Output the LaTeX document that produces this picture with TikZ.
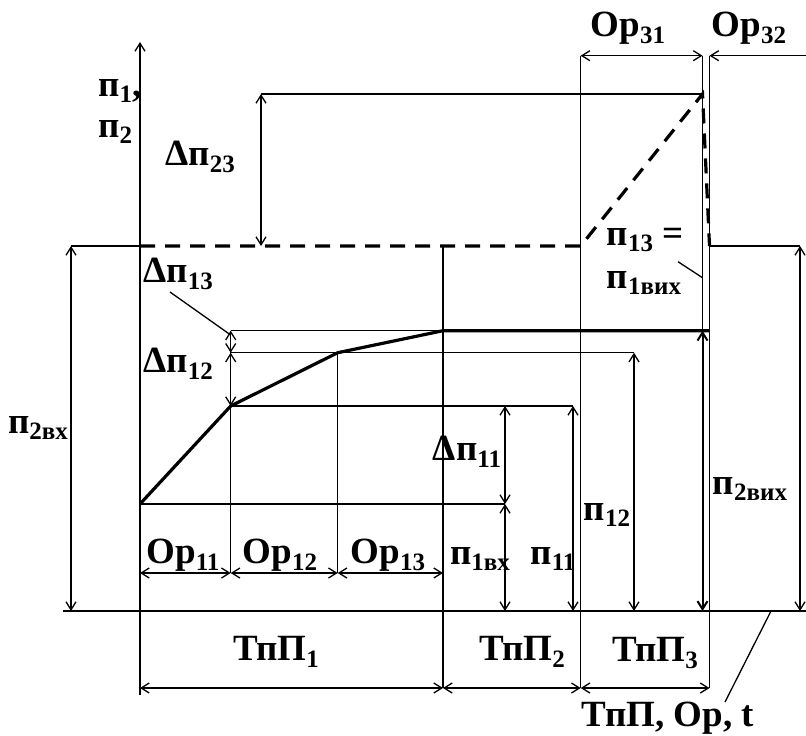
\documentclass[tikz,border=0pt]{standalone}
\usepackage{fontspec}
\setmainfont{Liberation Serif}
\usepackage{tikz}
\usetikzlibrary{arrows.meta}

\newcommand{\lowidx}[1]{\raisebox{-0.4ex}{\fontsize{12.5}{13}\selectfont #1}}

\begin{document}
\begin{tikzpicture}[x=0.5pt,y=-0.5pt,
  thinline/.style={line width=0.65pt},
  thickline/.style={line width=1.6pt},
  dashline/.style={line width=1.6pt,dash pattern=on 7.5pt off 5pt},
  dimline/.style={line width=0.65pt,{Straight Barb[length=4pt,width=5pt]}-{Straight Barb[length=4pt,width=5pt]}},
  lbl/.style={font=\fontsize{18.5}{22}\selectfont\bfseries,inner sep=0pt}]
\useasboundingbox (0,0) rectangle (806,735);

% key points
\coordinate (o) at (140,611);
\coordinate (s) at (140,504);
\coordinate (k1) at (230.7,406);
\coordinate (k2) at (337.7,352.7);
\coordinate (k3) at (443,330.7);
\coordinate (k4) at (709.5,330.7);
\coordinate (d1) at (140,246);
\coordinate (d2) at (580.7,246);
\coordinate (d3) at (702.5,94);
\coordinate (d4) at (709.5,246);

% axes
\draw[thinline,-{Straight Barb[length=4pt,width=5pt]}] (140,695) -- (140,42);
\draw[thinline] (63,611) -- (806,611);

% grid lines
\draw[thinline] (71,246) -- (d1);
\draw[thinline] (261,94) -- (d3);
\draw[thinline] (d4) -- (800,246);
\draw[thinline] (230.7,330.7) -- (k3);
\draw[thinline] (230.7,352.7) -- (634,352.7);
\draw[thinline] (k1) -- (573,406);
\draw[thinline] (s) -- (505,504);
\draw[thinline] (230.7,330.7) -- (230.7,573);
\draw[thinline] (k2) -- (337.7,573);
\draw[thinline] (443,246) -- (443,688);
\draw[thinline] (580.7,55.7) -- (580.7,688);
\draw[thinline] (702.5,55.7) -- (702.5,611);
\draw[thinline] (709.5,55.7) -- (709.5,688);

% curves
\draw[thickline] (s) -- (k1) -- (k2) -- (k3) -- (k4);
\draw[dashline] (d1) -- (d2) -- (d3) -- (d4);

% dimensions
\draw[dimline] (71,246) -- (71,611);
\draw[dimline] (261,94) -- (261,246);
\draw[dimline] (800,246) -- (800,611);
\draw[dimline] (230.7,330.7) -- (230.7,352.7);
\draw[dimline] (230.7,352.7) -- (k1);
\draw[dimline] (505,406) -- (505,504);
\draw[dimline] (505,504) -- (505,611);
\draw[dimline] (573,406) -- (573,611);
\draw[dimline] (634,352.7) -- (634,611);
\draw[dimline,line width=1pt] (702.5,330.7) -- (702.5,611);
\draw[dimline] (140,573) -- (230.7,573);
\draw[dimline] (230.7,573) -- (337.7,573);
\draw[dimline] (337.7,573) -- (443,573);
\draw[dimline] (140,688) -- (443,688);
\draw[dimline] (443,688) -- (580.7,688);
\draw[dimline] (580.7,688) -- (709.5,688);
\draw[dimline] (580.7,55.7) -- (702.5,55.7);
\draw[thinline,-{Straight Barb[length=4pt,width=5pt]}] (806,55.7) -- (709.5,55.7);

% labels
\node[lbl,anchor=west] (p1) at (98,91) {п\lowidx{1},};
\node[lbl,anchor=west] (p2) at (98,132) {п\lowidx{2}};
\node[lbl] (dp23) at (200,157) {Δп\lowidx{23}};
\node[lbl] (dp13) at (178,274) {Δп\lowidx{13}};
\node[lbl] (dp12) at (178,364) {Δп\lowidx{12}};
\node[lbl] (dp11) at (467,452) {Δп\lowidx{11}};
\node[lbl] (p2in) at (38,428) {п\lowidx{2вх}};
\node[lbl] (p1in) at (480,559) {п\lowidx{1вх}};
\node[lbl] (p11) at (553,559) {п\lowidx{11}};
\node[lbl] (p12) at (607,515) {п\lowidx{12}};
\node[lbl] (p2out) at (750,489) {п\lowidx{2вих}};
\node[lbl] (p13) at (645,240) {п\lowidx{13} =};
\node[lbl] (p1out) at (644,283) {п\lowidx{1вих}};
\node[lbl] (op11) at (183,555) {Ор\lowidx{11}};
\node[lbl] (op12) at (280,555) {Ор\lowidx{12}};
\node[lbl] (op13) at (388,555) {Ор\lowidx{13}};
\node[lbl] (op31) at (628,28) {Ор\lowidx{31}};
\node[lbl] (op32) at (749,28) {Ор\lowidx{32}};
\node[lbl] (tp1) at (276,652) {ТпП\lowidx{1}};
\node[lbl] (tp2) at (522,652) {ТпП\lowidx{2}};
\node[lbl] (tp3) at (655,653) {ТпП\lowidx{3}};
\node[lbl] (taxis) at (668,718) {ТпП, Ор, t};

% leaders
\coordinate (l1) at (170,292);
\coordinate (l2) at (678,261.7);
\coordinate (l3) at (725,702);
\draw[thinline] (l1) -- (230.7,335);
\draw[thinline] (l2) -- (702.5,277.7);
\draw[thinline] (l3) -- (771,611);
\end{tikzpicture}
\end{document}
